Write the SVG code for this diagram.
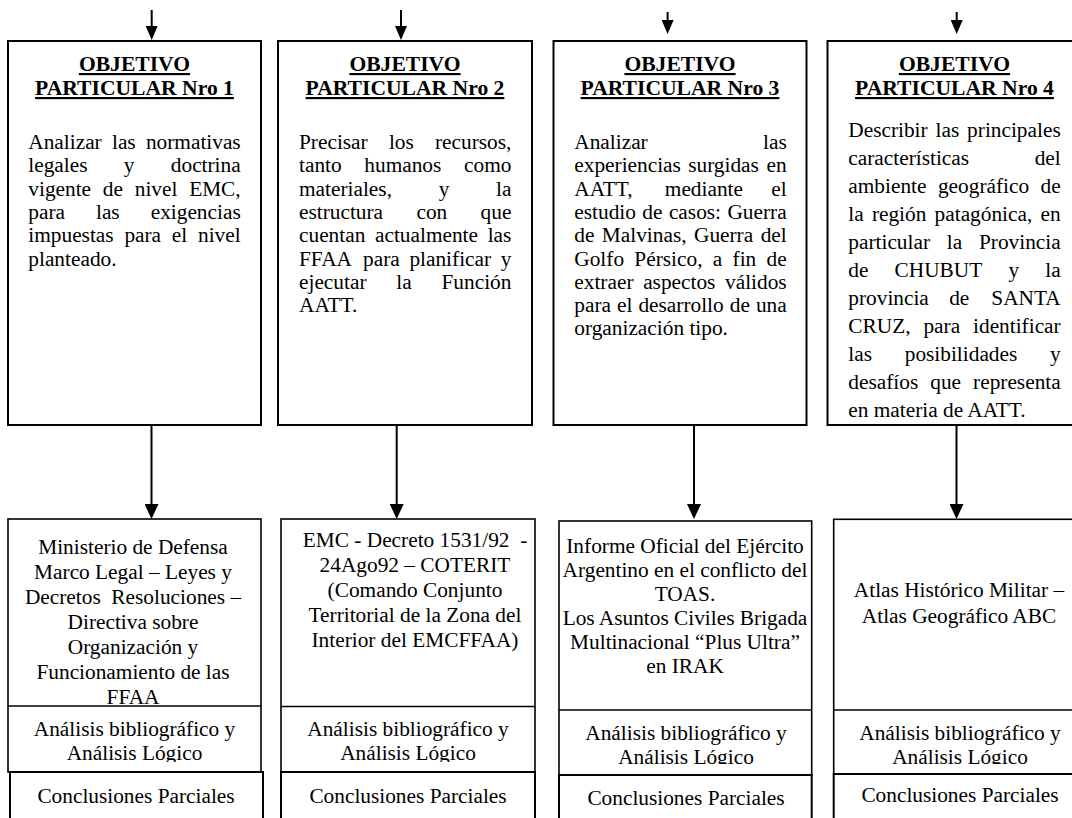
<svg xmlns="http://www.w3.org/2000/svg" width="1072" height="818" viewBox="0 0 1072 818">
<style>
text{font-family:"Liberation Serif","Times New Roman",serif;font-size:21.33px;fill:#000;white-space:pre}
.t{font-weight:bold;font-size:21.6px;text-anchor:middle;text-decoration:underline}
.r{text-anchor:end}
.c{text-anchor:middle}
.box{fill:#fff;stroke:#000;stroke-width:2}
.bx{fill:#fff;stroke:#000;stroke-width:1.6}
.div{stroke:#000;stroke-width:1.6}
.con{stroke:#000;stroke-width:2;fill:none}
</style>
<defs>
<marker id="hs" markerUnits="userSpaceOnUse" markerWidth="14" markerHeight="12" refX="6" refY="6" orient="auto"><path d="M0,0 L14,6 L0,12 z" fill="#000"/></marker>
<marker id="hl" markerUnits="userSpaceOnUse" markerWidth="15" markerHeight="14" refX="7" refY="7" orient="auto"><path d="M0,0 L15,7 L0,14 z" fill="#000"/></marker>
<clipPath id="c4"><rect x="827" y="41" width="245" height="377"/></clipPath>
<clipPath id="ca"><rect x="0" y="700" width="1072" height="62"/></clipPath>
<clipPath id="cb"><rect x="0" y="700" width="1072" height="64"/></clipPath>
</defs>

<g id="connectors">
<line class="con" x1="151.7" y1="10" x2="151.7" y2="32" marker-end="url(#hs)"/>
<line class="con" x1="401" y1="10" x2="401" y2="32" marker-end="url(#hs)"/>
<line class="con" x1="667.6" y1="12" x2="667.6" y2="26" marker-end="url(#hs)"/>
<line class="con" x1="956.7" y1="12" x2="956.7" y2="26" marker-end="url(#hs)"/>
<line class="con" x1="151.5" y1="425" x2="151.5" y2="511" marker-end="url(#hl)"/>
<line class="con" x1="396.7" y1="425" x2="396.7" y2="511" marker-end="url(#hl)"/>
<line class="con" x1="694" y1="425" x2="694" y2="511" marker-end="url(#hl)"/>
<line class="con" x1="956.5" y1="425" x2="956.5" y2="511" marker-end="url(#hl)"/>
</g>

<g id="obj1">
<rect class="box" x="8" y="41" width="253" height="384"/>
<text class="t" x="134.5" y="71">OBJETIVO</text>
<text class="t" x="134.5" y="95">PARTICULAR Nro 1</text>
<text y="149"><tspan x="28.3">Analizar</tspan><tspan x="111.98">las</tspan></text><text class="r" x="240.7" y="149">normativas</text>
<text y="172.3"><tspan x="28.3">legales</tspan><tspan x="123.83">y</tspan></text><text class="r" x="240.7" y="172.3">doctrina</text>
<text y="195.6"><tspan x="28.3">vigente</tspan><tspan x="102.84">de</tspan><tspan x="134.72">nivel</tspan></text><text class="r" x="240.7" y="195.6">EMC,</text>
<text y="218.9"><tspan x="28.3">para</tspan><tspan x="95.98">las</tspan></text><text class="r" x="240.7" y="218.9">exigencias</text>
<text y="242.2"><tspan x="28.3">impuestas</tspan><tspan x="124.39">para</tspan><tspan x="171.86">el</tspan></text><text class="r" x="240.7" y="242.2">nivel</text>
<text x="28.3" y="265.5">planteado.</text>
</g>

<g id="obj2">
<rect class="box" x="278" y="41" width="254" height="384"/>
<text class="t" x="405" y="71">OBJETIVO</text>
<text class="t" x="405" y="95">PARTICULAR Nro 2</text>
<text y="149"><tspan x="299">Precisar</tspan><tspan x="388.9">los</tspan></text><text class="r" x="511.4" y="149">recursos,</text>
<text y="172.3"><tspan x="299">tanto</tspan><tspan x="364.32">humanos</tspan></text><text class="r" x="511.4" y="172.3">como</text>
<text y="195.6"><tspan x="299">materiales,</tspan><tspan x="438.67">y</tspan></text><text class="r" x="511.4" y="195.6">la</text>
<text y="218.9"><tspan x="299">estructura</tspan><tspan x="416.45">con</tspan></text><text class="r" x="511.4" y="218.9">que</text>
<text y="242.2"><tspan x="299">cuentan</tspan><tspan x="374.98">actualmente</tspan></text><text class="r" x="511.4" y="242.2">las</text>
<text y="265.5"><tspan x="299">FFAA</tspan><tspan x="363.11">para</tspan><tspan x="409.4">planificar</tspan></text><text class="r" x="511.4" y="265.5">y</text>
<text y="288.8"><tspan x="299">ejecutar</tspan><tspan x="396.3">la</tspan></text><text class="r" x="511.4" y="288.8">Función</text>
<text x="299" y="312.1">AATT.</text>
</g>

<g id="obj3">
<rect class="box" x="553.5" y="41" width="253" height="384"/>
<text class="t" x="680" y="71">OBJETIVO</text>
<text class="t" x="680" y="95">PARTICULAR Nro 3</text>
<text x="574.3" y="149">Analizar</text><text class="r" x="786.7" y="149">las</text>
<text y="172.3"><tspan x="574.3">experiencias</tspan><tspan x="688.19">surgidas</tspan></text><text class="r" x="786.7" y="172.3">en</text>
<text y="195.6"><tspan x="574.3">AATT,</tspan><tspan x="664.8">mediante</tspan></text><text class="r" x="786.7" y="195.6">el</text>
<text y="218.9"><tspan x="574.3">estudio</tspan><tspan x="642.35">de</tspan><tspan x="668.91">casos:</tspan></text><text class="r" x="786.7" y="218.9">Guerra</text>
<text y="242.2"><tspan x="574.3">de</tspan><tspan x="601.85">Malvinas,</tspan><tspan x="693.99">Guerra</tspan></text><text class="r" x="786.7" y="242.2">del</text>
<text y="265.5"><tspan x="574.3">Golfo</tspan><tspan x="634.37">Pérsico,</tspan><tspan x="712.81">a</tspan><tspan x="732.58">fin</tspan></text><text class="r" x="786.7" y="265.5">de</text>
<text y="288.8"><tspan x="574.3">extraer</tspan><tspan x="643.16">aspectos</tspan></text><text class="r" x="786.7" y="288.8">válidos</text>
<text y="312.1"><tspan x="574.3">para</tspan><tspan x="617.02">el</tspan><tspan x="638.43">desarrollo</tspan><tspan x="729.75">de</tspan></text><text class="r" x="786.7" y="312.1">una</text>
<text x="574.3" y="335.4">organización tipo.</text>
</g>

<g id="obj4">
<rect class="box" x="827.5" y="41" width="260" height="384"/>
<text class="t" x="954.5" y="71">OBJETIVO</text>
<text class="t" x="954.5" y="95">PARTICULAR Nro 4</text>
<g clip-path="url(#c4)">
<text y="137"><tspan x="848.3">Describir</tspan><tspan x="935.54">las</tspan></text><text class="r" x="1060.7" y="137">principales</text>
<text x="848.3" y="165">características</text><text class="r" x="1060.7" y="165">del</text>
<text y="193"><tspan x="848.3">ambiente</tspan><tspan x="937.93">geográfico</tspan></text><text class="r" x="1060.7" y="193">de</text>
<text y="221"><tspan x="848.3">la</tspan><tspan x="871.9">región</tspan><tspan x="934.6">patagónica,</tspan></text><text class="r" x="1060.7" y="221">en</text>
<text y="249"><tspan x="848.3">particular</tspan><tspan x="946.79">la</tspan></text><text class="r" x="1060.7" y="249">Provincia</text>
<text y="277"><tspan x="848.3">de</tspan><tspan x="894.6">CHUBUT</tspan><tspan x="1008.46">y</tspan></text><text class="r" x="1060.7" y="277">la</text>
<text y="305"><tspan x="848.3">provincia</tspan><tspan x="949.17">de</tspan></text><text class="r" x="1060.7" y="305">SANTA</text>
<text y="333"><tspan x="848.3">CRUZ,</tspan><tspan x="923.42">para</tspan></text><text class="r" x="1060.7" y="333">identificar</text>
<text y="361"><tspan x="848.3">las</tspan><tspan x="904.72">posibilidades</tspan></text><text class="r" x="1060.7" y="361">y</text>
<text y="389"><tspan x="848.3">desafíos</tspan><tspan x="930.23">que</tspan></text><text class="r" x="1060.7" y="389">representa</text>
<text x="848.3" y="417">en materia de AATT.</text>
</g>
</g>

<g id="fuente1">
<rect class="bx" x="8" y="519" width="253" height="253"/>
<line class="div" x1="8" y1="706" x2="261" y2="706"/>
<text class="c" x="133" y="554">Ministerio de Defensa</text>
<text class="c" x="133" y="579">Marco Legal – Leyes y</text>
<text class="c" x="133" y="604">Decretos  Resoluciones –</text>
<text class="c" x="133" y="629">Directiva sobre</text>
<text class="c" x="133" y="654">Organización y</text>
<text class="c" x="133" y="679">Funcionamiento de las</text>
<text class="c" x="133" y="704">FFAA</text>
<g clip-path="url(#ca)">
<text class="c" x="134.5" y="736">Análisis bibliográfico y</text>
<text class="c" x="134.5" y="760">Análisis Lógico</text>
</g>
<rect class="box" x="10" y="772" width="253" height="60"/>
<text class="c" x="136" y="803">Conclusiones Parciales</text>
</g>

<g id="fuente2">
<rect class="bx" x="281" y="519" width="254" height="253"/>
<line class="div" x1="281" y1="706.5" x2="535" y2="706.5"/>
<text class="c" x="415" y="547">EMC - Decreto 1531/92  -</text>
<text class="c" x="415" y="572">24Ago92 – COTERIT</text>
<text class="c" x="415" y="597">(Comando Conjunto</text>
<text class="c" x="415" y="622">Territorial de la Zona del</text>
<text class="c" x="415" y="647">Interior del EMCFFAA)</text>
<g clip-path="url(#ca)">
<text class="c" x="408" y="736">Análisis bibliográfico y</text>
<text class="c" x="408" y="760">Análisis Lógico</text>
</g>
<rect class="box" x="281" y="772" width="254" height="60"/>
<text class="c" x="408" y="803">Conclusiones Parciales</text>
</g>

<g id="fuente3">
<rect class="bx" x="559" y="521" width="252.7" height="254"/>
<line class="div" x1="559" y1="710" x2="811.7" y2="710"/>
<text class="c" x="685" y="553">Informe Oficial del Ejército</text>
<text class="c" x="685" y="577">Argentino en el conflicto del</text>
<text class="c" x="685" y="601">TOAS.</text>
<text class="c" x="685" y="625">Los Asuntos Civiles Brigada</text>
<text class="c" x="685" y="649">Multinacional “Plus Ultra”</text>
<text class="c" x="685" y="673">en IRAK</text>
<g clip-path="url(#cb)">
<text class="c" x="686" y="740">Análisis bibliográfico y</text>
<text class="c" x="686" y="764">Análisis Lógico</text>
</g>
<rect class="box" x="559" y="775" width="252.7" height="60"/>
<text class="c" x="686" y="805">Conclusiones Parciales</text>
</g>

<g id="fuente4">
<rect class="bx" x="833.7" y="519.3" width="260" height="254.7"/>
<line class="div" x1="833.7" y1="710" x2="1072" y2="710"/>
<text class="c" x="959" y="597">Atlas Histórico Militar –</text>
<text class="c" x="959" y="622.5">Atlas Geográfico ABC</text>
<g clip-path="url(#cb)">
<text class="c" x="960" y="740">Análisis bibliográfico y</text>
<text class="c" x="960" y="764">Análisis Lógico</text>
</g>
<rect class="box" x="833.7" y="774" width="260" height="60"/>
<text class="c" x="960" y="802">Conclusiones Parciales</text>
</g>
</svg>
